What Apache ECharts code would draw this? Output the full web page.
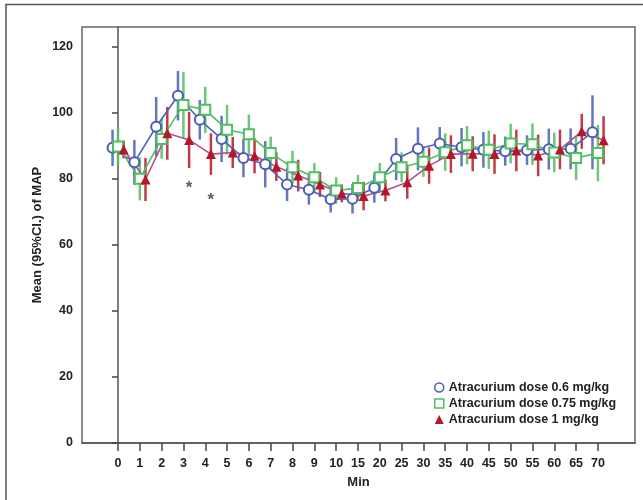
<!DOCTYPE html>
<html>
<head>
<meta charset="utf-8">
<title>Mean MAP by atracurium dose</title>
<script src="https://cdn.jsdelivr.net/npm/echarts@6/dist/echarts.min.js"></script>
<style>
  html, body { margin: 0; padding: 0; background: #fff; }
  #chart { width: 643px; height: 500px; }
</style>
</head>
<body>
<div id="chart"></div>
<script>
// time points (min)
var categories = ['0','1','2','3','4','5','6','7','8','9','10','15','20','25','30','35','40','45','50','55','60','65','70'];

// 0.6 mg/kg
var mean06 = [89.4, 85.0, 95.8, 105.2, 97.9, 92.1, 86.3, 84.4, 78.3, 76.7, 73.8, 74.0, 77.3, 86.0, 89.1, 90.7, 89.6, 88.8, 88.4, 88.7, 89.0, 89.1, 94.1];
var ci06   = [5.5, 6.8, 9.0, 7.5, 6.0, 7.0, 5.8, 7.0, 5.0, 4.5, 4.0, 4.5, 4.5, 6.4, 6.5, 5.0, 5.8, 5.4, 4.4, 4.5, 6.2, 6.2, 11.2];
// 0.75 mg/kg
var mean075 = [89.8, 80.0, 92.1, 102.4, 100.9, 94.9, 93.5, 87.8, 83.5, 80.5, 76.5, 77.2, 80.5, 83.5, 85.2, 88.1, 90.2, 88.8, 90.7, 90.5, 88.0, 86.3, 87.8];
var ci075   = [5.7, 6.5, 6.0, 10.0, 7.0, 7.5, 6.0, 5.0, 5.0, 4.3, 4.0, 4.0, 4.3, 4.5, 4.6, 5.7, 5.8, 5.8, 6.0, 6.3, 6.0, 6.6, 8.5];
// 1 mg/kg
var mean1 = [88.9, 79.8, 93.8, 91.8, 87.5, 88.0, 87.0, 83.7, 81.0, 78.3, 75.6, 74.8, 76.5, 79.0, 84.0, 87.5, 87.6, 87.5, 88.6, 87.1, 88.9, 94.4, 91.7];
var ci1   = [2.7, 6.5, 8.0, 8.5, 6.3, 4.7, 5.3, 4.3, 4.8, 3.8, 2.7, 4.3, 3.3, 5.0, 5.5, 5.7, 5.3, 6.0, 6.3, 6.3, 6.0, 5.3, 7.3];

// significant points (marked with *)
var starIdx = [3, 4];
var starVal = [77, 73.5];

var names = ['Atracurium dose 0.6 mg/kg', 'Atracurium dose 0.75 mg/kg', 'Atracurium dose 1 mg/kg'];
var FONT = 'Liberation Sans, Arial, sans-serif';

var myChart = echarts.init(document.getElementById('chart'));

function errorBars(mean, ci, shift, color) {
  return {
    type: 'custom',
    name: 'ci',
    silent: true,
    z: 1,
    renderItem: function (params, api) {
      var top = api.coord([api.value(0), api.value(2)]);
      var bot = api.coord([api.value(0), api.value(1)]);
      return {
        type: 'line',
        shape: { x1: top[0], y1: top[1], x2: bot[0], y2: bot[1] },
        style: { stroke: color, lineWidth: 2.5 }
      };
    },
    encode: { x: 0, y: [1, 2] },
    data: mean.map(function (m, i) { return [i + shift, m - ci[i], m + ci[i]]; })
  };
}

function meanLine(name, mean, shift, lineColor, symbol, symColor) {
  return {
    type: 'line',
    name: name,
    z: 3,
    symbol: symbol,
    symbolSize: 10,
    lineStyle: { color: lineColor, width: 1.6 },
    itemStyle: { color: symColor, borderWidth: 1.5 },
    data: mean.map(function (m, i) { return [i + shift, m]; })
  };
}

var tickIdx = categories.map(function (c, i) { return i; });

var option = {
  animation: false,
  backgroundColor: '#fff',
  graphic: [{
    type: 'polyline',
    shape: { points: [[6, 500], [6, 4.5], [643, 4.5]] },
    style: { stroke: '#555', lineWidth: 1.5, fill: null }
  }],
  grid: {
    left: 82, right: 8, top: 27, bottom: 57,
    show: true, borderColor: '#666', borderWidth: 1.5
  },
  legend: {
    orient: 'vertical',
    left: 429, top: 376,
    itemWidth: 9, itemHeight: 9, itemGap: 3,
    textStyle: { fontFamily: FONT, fontWeight: 'bold', fontSize: 12.5, color: '#222' },
    data: [
      { name: names[0], icon: 'circle', itemStyle: { color: '#fff', borderColor: '#4a5db5', borderWidth: 1.5 } },
      { name: names[1], icon: 'rect', itemStyle: { color: '#fff', borderColor: '#4fbf5f', borderWidth: 1.5 } },
      { name: names[2], icon: 'triangle', itemStyle: { color: '#b5172a', borderWidth: 0 } }
    ]
  },
  xAxis: {
    type: 'value',
    min: -1.65, max: 23.7,
    name: 'Min',
    nameLocation: 'middle',
    nameGap: 33,
    nameTextStyle: { fontFamily: FONT, fontWeight: 'bold', fontSize: 13, color: '#222' },
    axisLine: { lineStyle: { color: '#555', width: 1.5 } },
    axisTick: { customValues: tickIdx, length: 8, lineStyle: { color: '#444', width: 1.5 } },
    axisLabel: {
      customValues: tickIdx,
      margin: 14,
      fontFamily: FONT, fontWeight: 'bold', fontSize: 12.5, color: '#222',
      formatter: function (v) { return categories[Math.round(v)]; }
    },
    splitLine: { show: false }
  },
  yAxis: {
    type: 'value',
    min: 0, max: 126, interval: 20,
    name: 'Mean (95%CI.) of MAP',
    nameLocation: 'middle',
    nameGap: 38,
    nameMoveOverlap: false,
    nameRotate: 90,
    nameTextStyle: { fontFamily: FONT, fontWeight: 'bold', fontSize: 13, color: '#222' },
    axisLine: { show: true, lineStyle: { color: '#555', width: 1.5 } },
    axisTick: { show: true, length: 6, lineStyle: { color: '#444', width: 1.5 } },
    axisLabel: { margin: 9, showMaxLabel: false, fontFamily: FONT, fontWeight: 'bold', fontSize: 12.5, color: '#222' },
    splitLine: { show: false }
  },
  series: [
    errorBars(mean06, ci06, -0.25, 'rgba(74,93,181,0.85)'),
    errorBars(mean075, ci075, 0, 'rgba(79,191,95,0.85)'),
    errorBars(mean1, ci1, 0.26, 'rgba(181,23,42,0.85)'),
    meanLine(names[0], mean06, -0.25, '#5060c0', 'emptyCircle', '#4a5db5'),
    meanLine(names[1], mean075, 0, '#4fbf5f', 'emptyRect', '#4fbf5f'),
    meanLine(names[2], mean1, 0.26, '#b0508e', 'triangle', '#b5172a'),
    {
      type: 'scatter',
      name: 'sig',
      symbolSize: 1,
      itemStyle: { color: 'transparent' },
      label: {
        show: true, position: 'inside', formatter: '*',
        fontFamily: FONT, fontWeight: 'bold', fontSize: 17, color: '#333'
      },
      data: starIdx.map(function (x, i) { return [x + 0.26, starVal[i]]; })
    }
  ]
};

myChart.setOption(option);
</script>
</body>
</html>
